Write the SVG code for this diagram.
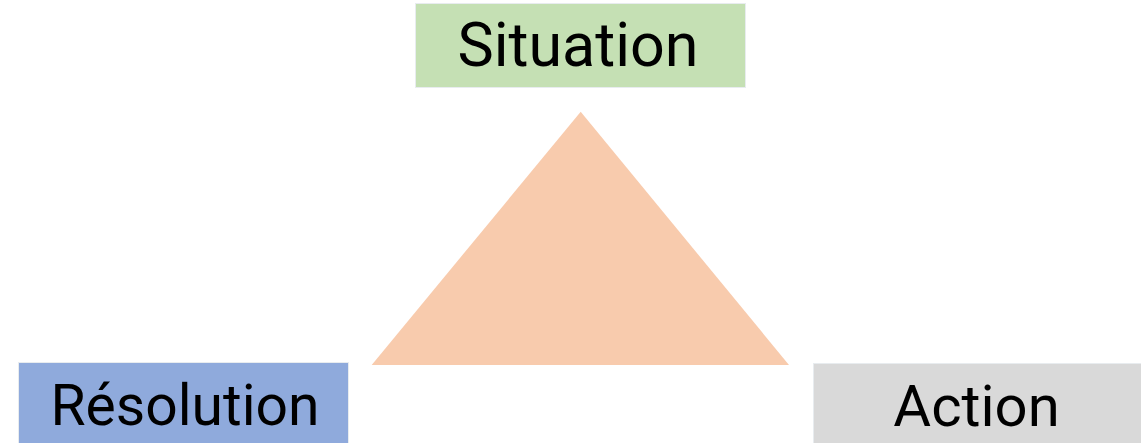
<svg xmlns="http://www.w3.org/2000/svg" width="1141" height="443" viewBox="0 0 1141 443">
<style>
.lbl{font-family:Roboto,"Liberation Sans",sans-serif;font-size:58px;fill:#000;text-anchor:middle}
.box{stroke:#e8ecef;stroke-width:1}
</style>
<rect width="1141" height="443" fill="#fff"/>
<g id="triangle"><polygon points="580.7,111.7 371.7,365 789,365" fill="#F8CBAD"/></g>
<g id="situation"><rect class="box" x="415.5" y="3.5" width="330" height="84" fill="#C5E0B4"/><text class="lbl" x="578" y="66" style="font-size:61px">Situation</text></g>
<g id="resolution"><rect class="box" x="18.5" y="362.5" width="330" height="90" fill="#8FAADC"/><text class="lbl" x="185" y="425" style="font-size:57px">Résolution</text></g>
<g id="action"><rect class="box" x="813.5" y="363.5" width="340" height="90" fill="#D9D9D9"/><text class="lbl" x="976.5" y="426">Action</text></g>
<g id="connectors"/>
</svg>
